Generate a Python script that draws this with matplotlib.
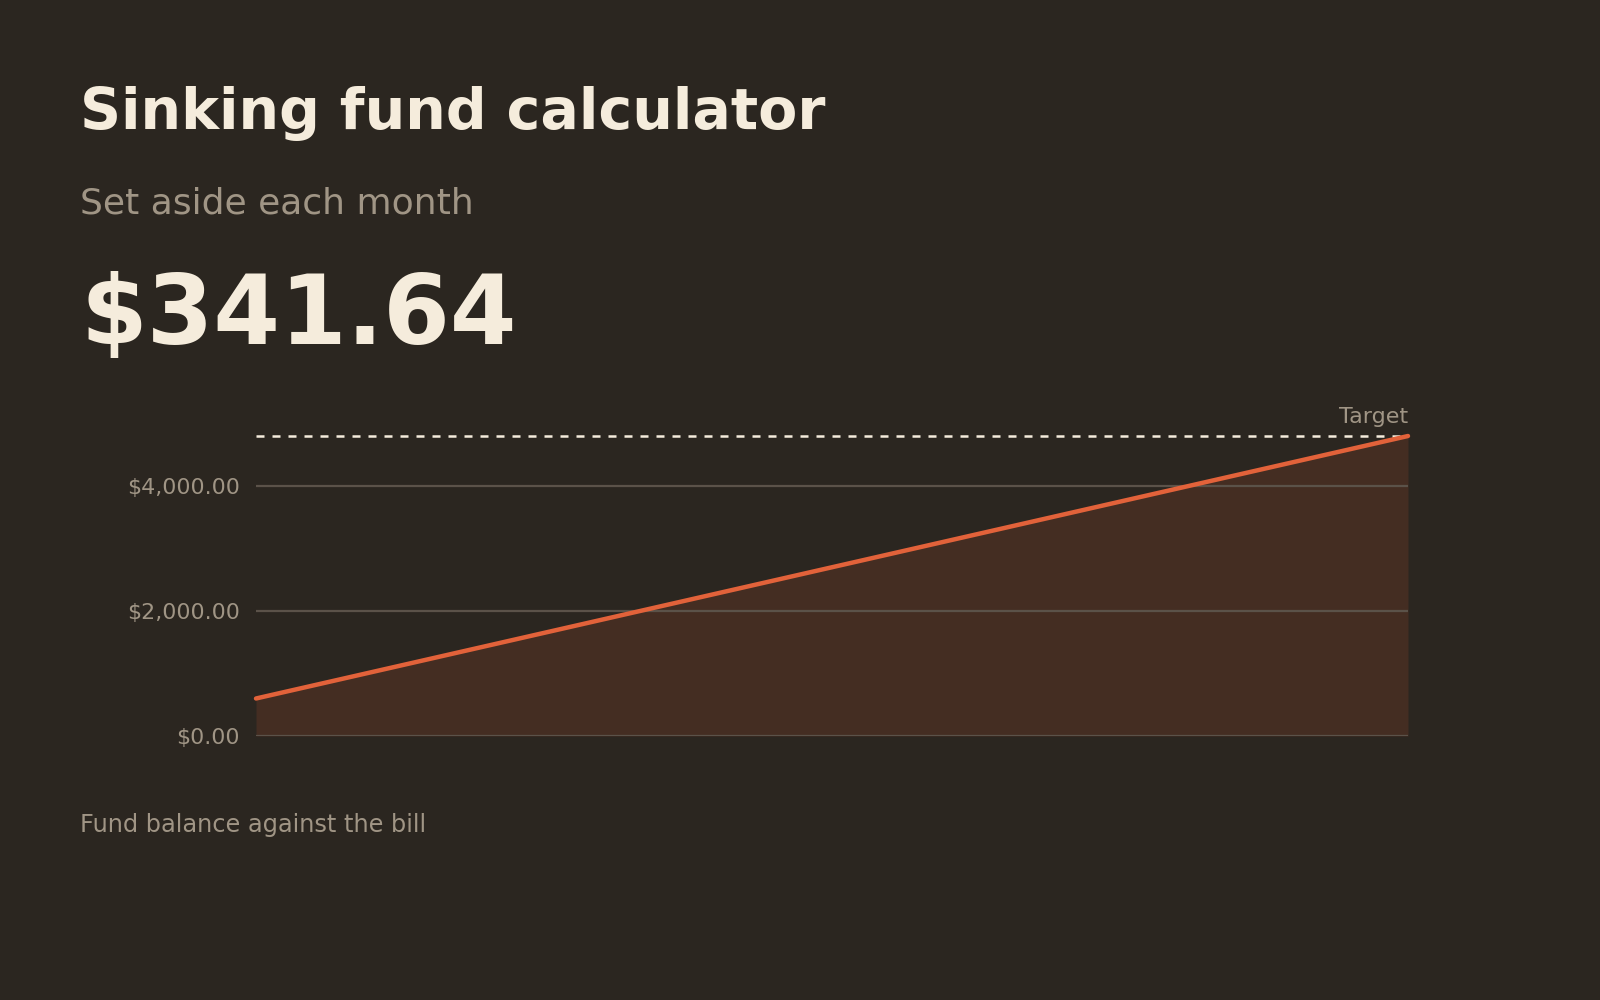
import matplotlib
matplotlib.use("Agg")
from matplotlib import pyplot as plt

# data
months = [0, 1, 2, 3, 4, 5, 6, 7, 8, 9, 10, 11, 12]
balance = [600, 950, 1300, 1650, 2000, 2350, 2700, 3050, 3400, 3750, 4100, 4450, 4800]
target = 4800
yticks = [0, 2000, 4000]
ytick_labels = ["$0.00", "$2,000.00", "$4,000.00"]

bg = "#2b2620"
cream = "#f5ecdc"
muted = "#a09585"
orange = "#e2623a"
fill = "#442d22"
grid = "#5b5249"

plt.rcParams["font.family"] = ["DejaVu Sans"]

fig = plt.figure(figsize=(16, 10), dpi=100, facecolor=bg)
ax = fig.add_axes([0.16, 0.264, 0.72, 0.30])
ax.set_facecolor(bg)

ax.fill_between(months, 0, balance, color=fill, lw=0, zorder=1)
for y in yticks:
    ax.axhline(y, color=grid, lw=1.6, zorder=2)
lw_t = 1.8
ax.axhline(target, color=cream, lw=lw_t, dashes=(5.76 / lw_t, 5.76 / lw_t), zorder=3, clip_on=False)
ax.plot(months, balance, color=orange, lw=3.2, solid_capstyle="round", zorder=4, clip_on=False)

ax.set_xlim(months[0], months[-1])
ax.set_ylim(0, target)
ax.set_xticks([])
ax.set_yticks(yticks)
ax.set_yticklabels(ytick_labels, color=muted, fontsize=15.9)
ax.tick_params(axis="y", length=0, pad=11.5)
for s in ax.spines.values():
    s.set_visible(False)

ax.text(months[-1], target + 140, "Target", color=muted, fontsize=16, ha="right", va="bottom")

fig.text(0.05, 0.871, "Sinking fund calculator", color=cream, fontsize=41, fontweight="bold", va="baseline")
fig.text(0.05, 0.787, "Set aside each month", color=muted, fontsize=26, va="baseline")
fig.text(0.05, 0.656, "$341.64", color=cream, fontsize=69, fontweight="bold", va="baseline")
fig.text(0.05, 0.168, "Fund balance against the bill", color=muted, fontsize=17.25, va="baseline")

fig.savefig("out.png", dpi=100, facecolor=bg)
